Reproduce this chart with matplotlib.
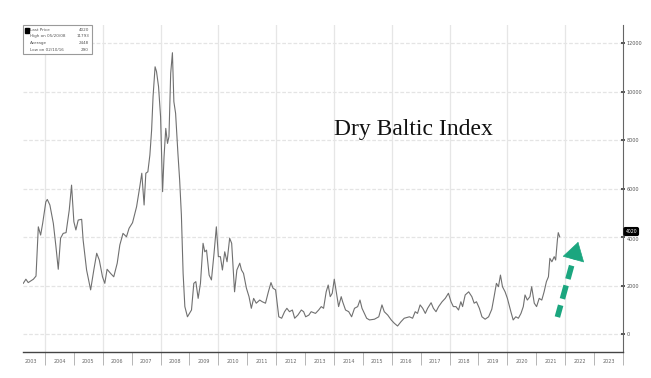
import matplotlib
matplotlib.use('Agg')
import matplotlib.pyplot as plt
import matplotlib.transforms as mtransforms
from matplotlib.patches import Rectangle

# ---------------- data ----------------
dates = [2003.25, 2003.34, 2003.42, 2003.60, 2003.69, 2003.77, 2003.85, 2003.92, 2004.03, 2004.08,
         2004.17, 2004.29, 2004.38, 2004.46, 2004.54, 2004.63, 2004.73, 2004.84, 2004.92, 2005.00,
         2005.07, 2005.15, 2005.27, 2005.32, 2005.44, 2005.58, 2005.69, 2005.79, 2005.88, 2005.99,
         2006.07, 2006.15, 2006.27, 2006.38, 2006.50, 2006.59, 2006.70, 2006.82, 2006.91, 2007.03,
         2007.17, 2007.28, 2007.35, 2007.43, 2007.49, 2007.56, 2007.63, 2007.69, 2007.74, 2007.81,
         2007.86, 2007.93, 2008.00, 2008.07, 2008.12, 2008.18, 2008.24, 2008.29, 2008.35, 2008.41,
         2008.46, 2008.52, 2008.60, 2008.66, 2008.72, 2008.78, 2008.84, 2008.93, 2009.00, 2009.07,
         2009.15, 2009.22, 2009.30, 2009.38, 2009.47, 2009.53, 2009.59, 2009.68, 2009.76, 2009.85,
         2009.93, 2010.00, 2010.07, 2010.14, 2010.22, 2010.30, 2010.39, 2010.46, 2010.50, 2010.56,
         2010.64, 2010.74, 2010.80, 2010.87, 2010.97, 2011.06, 2011.14, 2011.22, 2011.31, 2011.43,
         2011.52, 2011.63, 2011.73, 2011.82, 2011.89, 2011.98, 2012.09, 2012.19, 2012.29, 2012.37,
         2012.46, 2012.56, 2012.64, 2012.75, 2012.87, 2012.95, 2013.02, 2013.13, 2013.21, 2013.36,
         2013.47, 2013.56, 2013.64, 2013.73, 2013.80, 2013.87, 2013.94, 2014.01, 2014.08, 2014.16,
         2014.25, 2014.30, 2014.40, 2014.51, 2014.61, 2014.71, 2014.82, 2014.90, 2014.97, 2015.05,
         2015.13, 2015.23, 2015.40, 2015.55, 2015.66, 2015.74, 2015.86, 2015.98, 2016.09, 2016.20,
         2016.32, 2016.43, 2016.61, 2016.72, 2016.81, 2016.89, 2016.98, 2017.07, 2017.16, 2017.24,
         2017.36, 2017.44, 2017.53, 2017.62, 2017.74, 2017.85, 2017.96, 2018.05, 2018.13, 2018.22,
         2018.31, 2018.39, 2018.45, 2018.54, 2018.66, 2018.77, 2018.85, 2018.93, 2019.03, 2019.12,
         2019.23, 2019.35, 2019.46, 2019.54, 2019.62, 2019.69, 2019.76, 2019.83, 2019.92, 2020.00,
         2020.12, 2020.20, 2020.29, 2020.38, 2020.47, 2020.55, 2020.61, 2020.69, 2020.78, 2020.84,
         2020.93, 2021.01, 2021.10, 2021.19, 2021.27, 2021.35, 2021.42, 2021.47, 2021.54, 2021.62,
         2021.67, 2021.73, 2021.76, 2021.81]
values = [2090, 2260, 2120, 2260, 2390, 4420, 4080, 4560, 5450, 5550,
          5320, 4560, 3600, 2670, 3950, 4150, 4180, 5110, 6140, 4630,
          4290, 4700, 4730, 3880, 2640, 1820, 2640, 3330, 3050, 2360,
          2090, 2670, 2500, 2360, 2920, 3670, 4150, 4010, 4360, 4590,
          5250, 6070, 6630, 5320, 6630, 6690, 7380, 8410, 9790, 11020,
          10820, 10200, 8960, 5870, 7310, 8480, 7860, 8140, 10750, 11600,
          9580, 9100, 7450, 6350, 4910, 2500, 1130, 710, 850, 990,
          2090, 2160, 1470, 2090, 3740, 3390, 3460, 2430, 2230, 3330,
          4420, 3190, 3190, 2640, 3390, 2980, 3950, 3740, 2920, 1740,
          2640, 2920, 2640, 2500, 1890, 1540, 1060, 1470, 1270, 1400,
          1330, 1270, 1740, 2120, 1890, 1820, 710, 650, 920, 1060,
          920, 990, 650, 780, 990, 920, 710, 780, 920, 850,
          990, 1130, 1060, 1740, 2020, 1540, 1680, 2260, 1740, 1130,
          1540, 1330, 990, 920, 710, 1060, 1130, 1400, 1060, 850,
          650, 580, 610, 710, 1200, 920, 780, 580, 440, 330,
          510, 650, 710, 650, 920, 850, 1200, 1060, 850, 1060,
          1290, 1060, 920, 1130, 1330, 1470, 1680, 1330, 1130, 1130,
          990, 1330, 1130, 1610, 1740, 1540, 1270, 1330, 1060, 710,
          610, 710, 1020, 1540, 2090, 1950, 2430, 1950, 1740, 1470,
          920, 580, 710, 650, 850, 1130, 1610, 1400, 1540, 1950,
          1270, 1130, 1470, 1400, 1740, 2160, 2360, 3120, 2980, 3190,
          3050, 3880, 4180, 4010]

year_labels = list(range(2003, 2024))
year_edges = list(range(2004, 2025))
grid_years = list(range(2004, 2024, 2))
y_ticks = [0, 2000, 4000, 6000, 8000, 10000, 12000]
title_text = "Dry Baltic Index"
legend_names = ["Last Price", "High on 05/20/08", "Average", "Low on 02/10/16"]
legend_values = ["4020", "11793", "2448", "290"]
last_price = 4020
arrow_tail = (2021.73, 700)
arrow_tip = (2022.45, 3800)
arrow_color = '#1ba67f'

# ---------------- figure ----------------
fig = plt.figure(figsize=(6.51, 3.78), dpi=100)
fig.patch.set_facecolor('white')
ax = fig.add_axes([23 / 651, 26 / 378, 600 / 651, 327 / 378])
ax.set_xlim(2003.24, 2024.0)
ax.set_ylim(-742, 12743)

# grid
for yv in y_ticks:
    ax.axhline(yv, color='#e4e4e4', lw=0.9, ls=(0, (3, 1.5)), zorder=0)
for g in grid_years:
    ax.axvline(g, color='#e6e6e6', lw=0.9, zorder=0)

# main line
ax.plot(dates, values, color='#707070', lw=0.8, zorder=3)

# spines
for s in ['top', 'left']:
    ax.spines[s].set_visible(False)
ax.spines['right'].set_color('#666666')
ax.spines['right'].set_linewidth(0.8)
ax.spines['bottom'].set_color('#444444')
ax.spines['bottom'].set_linewidth(1.0)

# y axis on the right
ax.yaxis.tick_right()
ax.set_yticks(y_ticks)
ax.set_yticklabels([str(v) for v in y_ticks])
ax.tick_params(axis='y', which='major', length=2.5, width=1.4, direction='inout',
               colors='#555555', labelsize=3.5, pad=1.5)
for lab, v in zip(ax.get_yticklabels(), y_ticks):
    if v == 4000:
        lab.set_va('top')

# x axis: separators at year edges, labels at mid-year
ax.set_xticks(year_edges)
ax.set_xticklabels([])
ax.set_xticks([y + 0.5 for y in year_labels], minor=True)
ax.set_xticklabels([str(y) for y in year_labels], minor=True)
ax.tick_params(axis='x', which='major', length=9, width=0.6, colors='#aaaaaa', direction='out')
ax.tick_params(axis='x', which='minor', length=0, labelsize=3.5, labelcolor='#666666', pad=5)

# title text
ax.text(0.65, 0.68, title_text, transform=ax.transAxes, fontsize=17,
        family='Liberation Serif', color='#111111', ha='center', va='center')

# last price tag
trans = mtransforms.blended_transform_factory(ax.transAxes, ax.transData)
ax.annotate(str(last_price), xy=(1.004, last_price), xycoords=trans,
            xytext=(0, 1.8), textcoords='offset points', fontsize=3.3, color='white',
            ha='left', va='bottom', zorder=6, annotation_clip=False,
            bbox=dict(boxstyle='round,pad=0.3', fc='black', ec='black'))

# legend box
ax.add_patch(Rectangle((0.0, 0.912), 0.115, 0.088, transform=ax.transAxes,
                       fc='white', ec='#9a9a9a', lw=0.8, zorder=5, clip_on=False))
row_y = [0.984, 0.965, 0.946, 0.925]
for i, (nm, vl) in enumerate(zip(legend_names, legend_values)):
    ax.text(0.012, row_y[i], nm, transform=ax.transAxes, fontsize=3.0, color='#555555',
            ha='left', va='center', zorder=6)
    ax.text(0.110, row_y[i], vl, transform=ax.transAxes, fontsize=3.0, color='#555555',
            ha='right', va='center', zorder=6)
ax.add_patch(Rectangle((0.004, row_y[0] - 0.007), 0.006, 0.014, transform=ax.transAxes,
                       fc='black', ec='black', zorder=6))

# green dashed arrow: dashed shaft + solid head
frac = 0.79
head_base = (arrow_tail[0] + frac * (arrow_tip[0] - arrow_tail[0]),
             arrow_tail[1] + frac * (arrow_tip[1] - arrow_tail[1]))
shaft_end = (arrow_tail[0] + 0.83 * (arrow_tip[0] - arrow_tail[0]),
             arrow_tail[1] + 0.83 * (arrow_tip[1] - arrow_tail[1]))
ax.plot([arrow_tail[0], shaft_end[0]], [arrow_tail[1], shaft_end[1]], color=arrow_color,
        lw=4.0, ls=(0.3, (2.5, 1.2)), solid_capstyle='butt', dash_capstyle='butt', zorder=7)
ax.annotate('', xy=arrow_tip, xytext=head_base, zorder=8,
            arrowprops=dict(arrowstyle='-|>,head_length=0.62,head_width=0.38', mutation_scale=20,
                            lw=0.5, color=arrow_color, shrinkA=0, shrinkB=0))

fig.savefig('out.png', dpi=100, facecolor='white')
